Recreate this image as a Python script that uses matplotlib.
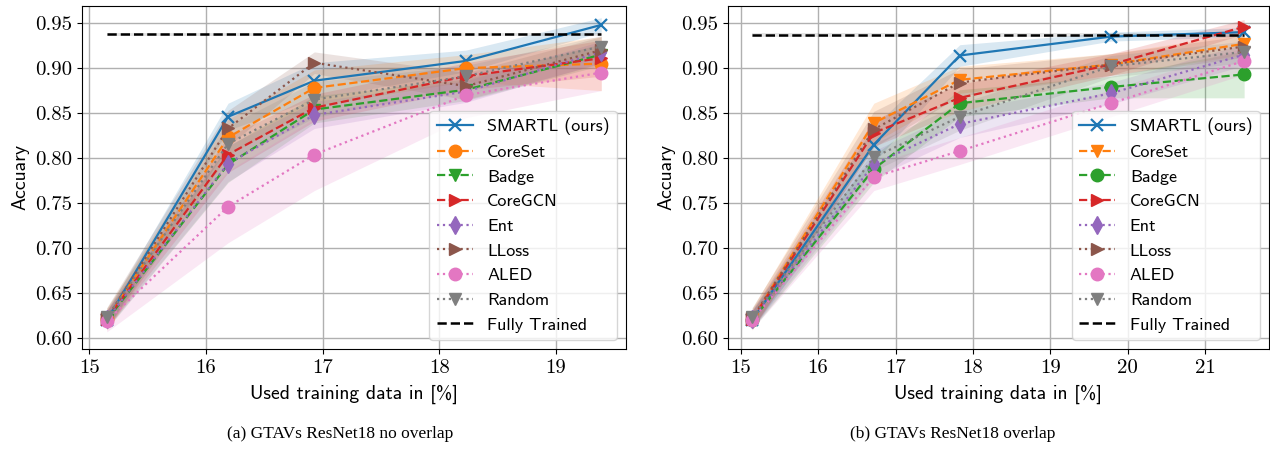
import numpy as np
import matplotlib
matplotlib.use("Agg")
import matplotlib.pyplot as plt
from matplotlib.ticker import FormatStrFormatter

# ---- data -------------------------------------------------------------
methods = ["SMARTL (ours)", "CoreSet", "Badge", "CoreGCN", "Ent", "LLoss", "ALED", "Random"]

x_a = [15.15, 16.19, 16.93, 18.23, 19.39]
mean_a = {
    "SMARTL (ours)": [0.620, 0.846, 0.886, 0.908, 0.948],
    "CoreSet":       [0.621, 0.823, 0.878, 0.900, 0.905],
    "Badge":         [0.620, 0.793, 0.854, 0.876, 0.915],
    "CoreGCN":       [0.621, 0.804, 0.856, 0.891, 0.911],
    "Ent":           [0.621, 0.794, 0.848, 0.874, 0.918],
    "LLoss":         [0.622, 0.833, 0.906, 0.880, 0.920],
    "ALED":          [0.619, 0.746, 0.804, 0.870, 0.895],
    "Random":        [0.623, 0.816, 0.865, 0.891, 0.924],
}
std_a = {
    "SMARTL (ours)": [0.010, 0.015, 0.020, 0.012, 0.008],
    "CoreSet":       [0.012, 0.020, 0.020, 0.015, 0.030],
    "Badge":         [0.010, 0.020, 0.015, 0.012, 0.012],
    "CoreGCN":       [0.010, 0.020, 0.015, 0.015, 0.020],
    "Ent":           [0.010, 0.020, 0.015, 0.012, 0.012],
    "LLoss":         [0.012, 0.020, 0.012, 0.015, 0.015],
    "ALED":          [0.012, 0.040, 0.040, 0.025, 0.020],
    "Random":        [0.010, 0.020, 0.020, 0.012, 0.012],
}
full_a, full_std_a = 0.9375, 0.002

x_b = [15.15, 16.72, 17.83, 19.78, 21.50]
mean_b = {
    "SMARTL (ours)": [0.620, 0.815, 0.914, 0.935, 0.940],
    "CoreSet":       [0.621, 0.839, 0.887, 0.904, 0.927],
    "Badge":         [0.620, 0.788, 0.861, 0.879, 0.893],
    "CoreGCN":       [0.621, 0.828, 0.867, 0.904, 0.946],
    "Ent":           [0.621, 0.793, 0.838, 0.872, 0.915],
    "LLoss":         [0.622, 0.832, 0.884, 0.904, 0.924],
    "ALED":          [0.620, 0.779, 0.808, 0.861, 0.908],
    "Random":        [0.623, 0.801, 0.846, 0.902, 0.918],
}
std_b = {
    "SMARTL (ours)": [0.010, 0.020, 0.012, 0.005, 0.005],
    "CoreSet":       [0.012, 0.022, 0.015, 0.012, 0.012],
    "Badge":         [0.010, 0.015, 0.015, 0.012, 0.026],
    "CoreGCN":       [0.010, 0.015, 0.015, 0.012, 0.008],
    "Ent":           [0.010, 0.015, 0.015, 0.012, 0.012],
    "LLoss":         [0.012, 0.020, 0.015, 0.012, 0.012],
    "ALED":          [0.010, 0.015, 0.015, 0.015, 0.015],
    "Random":        [0.010, 0.015, 0.015, 0.012, 0.012],
}
full_b, full_std_b = 0.9365, 0.002

xticks_a = [15, 16, 17, 18, 19]
xticks_b = [15, 16, 17, 18, 19, 20, 21]
captions = ["(a) GTAVs ResNet18 no overlap", "(b) GTAVs ResNet18 overlap"]

# ---- styles -----------------------------------------------------------
colors = {
    "SMARTL (ours)": "tab:blue", "CoreSet": "tab:orange", "Badge": "tab:green",
    "CoreGCN": "tab:red", "Ent": "tab:purple", "LLoss": "tab:brown",
    "ALED": "tab:pink", "Random": "tab:gray",
}
linestyles = {
    "SMARTL (ours)": "-", "CoreSet": "--", "Badge": "--", "CoreGCN": "--",
    "Ent": ":", "LLoss": ":", "ALED": ":", "Random": ":",
}
markers_a = {
    "SMARTL (ours)": "x", "CoreSet": "o", "Badge": "v", "CoreGCN": ">",
    "Ent": "d", "LLoss": ">", "ALED": "o", "Random": "v",
}
markers_b = dict(markers_a, CoreSet="v", Badge="o")

plt.rcParams["font.family"] = ["cmss10", "DejaVu Sans"]
plt.rcParams["axes.unicode_minus"] = False

fig = plt.figure(figsize=(12.7, 4.51), dpi=100)
ax_a = fig.add_axes([0.0646, 0.2262, 0.4283, 0.7605])
ax_b = fig.add_axes([0.5729, 0.2262, 0.4261, 0.7605])


def draw_panel(ax, x, xticks, means, stds, markers, full, full_std):
    x = np.asarray(x)
    for m in methods:
        mu = np.asarray(means[m])
        sd = np.asarray(stds[m])
        ax.fill_between(x, mu - sd, mu + sd, color=colors[m], alpha=0.17, linewidth=0)
        ax.plot(x, mu, color=colors[m], linestyle=linestyles[m], marker=markers[m],
                markersize=9, linewidth=1.6, label=m,
                markeredgewidth=1.6 if markers[m] == "x" else 1.0)
    fl = np.full_like(x, full)
    ax.fill_between(x, fl - full_std, fl + full_std, color="k", alpha=0.1, linewidth=0)
    ax.plot(x, fl, color="k", linestyle="--", linewidth=1.8, label="Fully Trained")

    ax.set_ylim(0.588, 0.969)
    ax.set_yticks(np.arange(0.60, 0.951, 0.05))
    ax.set_xticks(xticks)
    ax.yaxis.set_major_formatter(FormatStrFormatter("%.2f"))
    ax.grid(True, color="#b0b0b0", linewidth=1.0)
    ax.set_axisbelow(True)
    ax.tick_params(labelsize=15)
    for lab in ax.get_xticklabels() + ax.get_yticklabels():
        lab.set_fontfamily("cmr10")
    ax.set_xlabel("Used training data in [%]", fontsize=14.2, labelpad=6)
    ax.set_ylabel("Accuary", fontsize=14.2, labelpad=4)
    ax.legend(loc="lower right", fontsize=13, framealpha=0.8)


draw_panel(ax_a, x_a, xticks_a, mean_a, std_a, markers_a, full_a, full_std_a)
draw_panel(ax_b, x_b, xticks_b, mean_b, std_b, markers_b, full_b, full_std_b)

fig.text(340 / 1270, 1 - 434 / 451, captions[0], ha="center", va="center",
         fontsize=12.5, family="Liberation Serif")
fig.text(953 / 1270, 1 - 434 / 451, captions[1], ha="center", va="center",
         fontsize=12.5, family="Liberation Serif")

fig.savefig("out.png", dpi=100)
